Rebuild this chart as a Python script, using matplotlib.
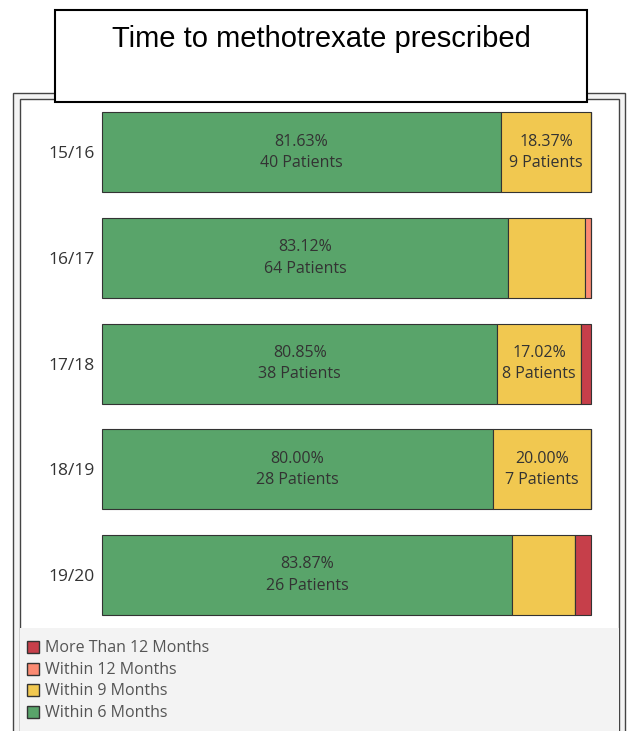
import matplotlib.pyplot as plt
from matplotlib.patches import Rectangle

# Patients per season, split by time until methotrexate was prescribed
seasons = ["15/16", "16/17", "17/18", "18/19", "19/20"]
within_6 = [40, 64, 38, 28, 26]
within_9 = [9, 12, 8, 7, 4]
within_12 = [0, 1, 0, 0, 0]
more_12 = [0, 0, 1, 0, 1]

stack_names = ["Within 6 Months", "Within 9 Months", "Within 12 Months", "More Than 12 Months"]
stack_counts = [within_6, within_9, within_12, more_12]
stack_colors = ["#59a46a", "#f1c850", "#fb8a72", "#c63f4a"]
legend_order = ["More Than 12 Months", "Within 12 Months", "Within 9 Months", "Within 6 Months"]

W, H = 630, 731
fig = plt.figure(figsize=(W / 100, H / 100), dpi=100)
plt.rcParams["font.family"] = ["Open Sans", "DejaVu Sans"]


def px_rect(x0, y0, x1, y1, **kw):
    r = Rectangle((x0 / W, 1 - y1 / H), (x1 - x0) / W, (y1 - y0) / H,
                  transform=fig.transFigure, **kw)
    fig.add_artist(r)
    return r


# dashboard frame
px_rect(13, 93, 625, 740, facecolor="#f3f3f3", edgecolor="#444444", lw=1.0, zorder=-10)
px_rect(19.5, 98.5, 619, 740, facecolor="#ffffff", edgecolor="#444444", lw=1.0, zorder=-9)
px_rect(20, 628, 618.5, 740, facecolor="#f3f3f3", edgecolor="none", zorder=-8)

# title box
px_rect(55, 10, 587, 102, facecolor="white", edgecolor="black", lw=1.5, zorder=10)
fig.text(321 / W, 1 - 39 / H, "Time to methotrexate prescribed", ha="center", va="center",
         fontsize=21, family=["Liberation Sans", "DejaVu Sans"], color="black", zorder=11)

ax = fig.add_axes([102 / W, 1 - 628 / H, (591 - 102) / W, (628 - 99.5) / H])
ax.set_xlim(0, 100)
ax.set_ylim(len(seasons) - 0.5, -0.5)
ax.patch.set_alpha(0)
for s in ax.spines.values():
    s.set_visible(False)
ax.set_xticks([])
ax.set_yticks(range(len(seasons)), seasons)
ax.tick_params(axis="y", length=0, pad=5, labelsize=12.5, labelcolor="#333333")

totals = [sum(c[i] for c in stack_counts) for i in range(len(seasons))]
lefts = [0.0] * len(seasons)
for name, counts, col in zip(stack_names, stack_counts, stack_colors):
    pct = [100 * c / t for c, t in zip(counts, totals)]
    bars = ax.barh(range(len(seasons)), pct, left=lefts, height=0.757, color=col,
                   edgecolor="#333333", linewidth=0.8)
    for b in bars:
        b.set_clip_on(False)
    for i, (p, c) in enumerate(zip(pct, counts)):
        if p >= 16.5:
            ax.text(lefts[i] + p / 2, i, f"{p:.2f}%\n{c} Patients", ha="center", va="center",
                    fontsize=11.5, color="#333333", linespacing=1.45)
    lefts = [l + p for l, p in zip(lefts, pct)]

# legend
color_of = dict(zip(stack_names, stack_colors))
for k, name in enumerate(legend_order):
    yc = 647 + k * 21.7
    px_rect(26.5, yc - 6, 38.5, yc + 6, facecolor=color_of[name], edgecolor="#333333", lw=1.0)
    fig.text(45 / W, 1 - (yc + 1) / H, name, ha="left", va="center", fontsize=11.5, color="#555555")

fig.savefig("out.png", dpi=100)
